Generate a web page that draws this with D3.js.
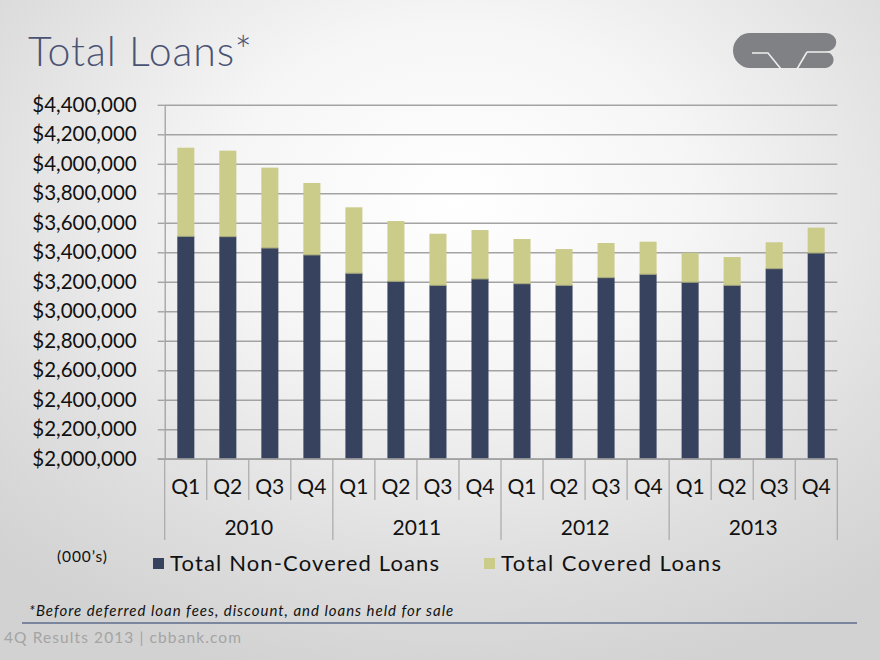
<!DOCTYPE html>
<html>
<head>
<meta charset="utf-8">
<script src="https://cdn.jsdelivr.net/npm/d3@7"></script>
<style>
  html, body { margin: 0; padding: 0; background: #fff; }
  svg { display: block; }
  text { font-family: Lato, "Open Sans", "DejaVu Sans", sans-serif; }
</style>
</head>
<body>
<svg id="chart" width="880" height="660"></svg>
<script>
// ---- data (values in $000s) ----
const years = ["2010", "2011", "2012", "2013"];
const quarters = ["Q1", "Q2", "Q3", "Q4"];
const nonCovered = [3508000, 3506000, 3429000, 3382000, 3258000, 3203000, 3176000, 3219000,
                    3187000, 3176000, 3228000, 3251000, 3197000, 3176000, 3289000, 3395000];
const covered    = [601000, 583000, 545000, 488000, 447000, 409000, 350000, 332000,
                    303000, 246000, 235000, 221000, 200000, 192000, 179000, 172000];
const yTicks = [2000000, 2200000, 2400000, 2600000, 2800000, 3000000, 3200000, 3400000,
                3600000, 3800000, 4000000, 4200000, 4400000];
const seriesNames = ["Total Non-Covered Loans", "Total Covered Loans"];
const colors = ["#37425f", "#cbcb8a"];

(function () {
const cats = [];
years.forEach(yv => quarters.forEach(q => cats.push({ id: yv + "-" + q, year: yv, q: q })));
const rows = cats.map((c, i) => ({ id: c.id, year: c.year, q: c.q, nonCovered: nonCovered[i], covered: covered[i] }));

const svg = d3.select("#chart");
const W = 880, H = 660;

function fitWidth(sel, w) {
  sel.each(function () {
    const cur = this.getComputedTextLength();
    if (cur > 0) {
      const n = this.textContent.length;
      const ls = (w - cur) / Math.max(1, n - 1);
      d3.select(this).attr("letter-spacing", ls.toFixed(2));
    }
  });
}

// ---- background ----
const defs = svg.append("defs");
const rg = defs.append("radialGradient").attr("id", "bg")
  .attr("cx", "52%").attr("cy", "30%").attr("r", "75%");
rg.append("stop").attr("offset", "0%").attr("stop-color", "#ffffff");
rg.append("stop").attr("offset", "35%").attr("stop-color", "#f6f6f6");
rg.append("stop").attr("offset", "75%").attr("stop-color", "#dedede");
rg.append("stop").attr("offset", "100%").attr("stop-color", "#d2d2d2");
svg.append("rect").attr("width", W).attr("height", H).attr("fill", "url(#bg)");

// ---- title ----
svg.append("text").attr("x", 28).attr("y", 66)
  .attr("font-size", 41).attr("fill", "#4b5374").attr("font-weight", 300)
  .text("Total Loans*").call(fitWidth, 224);

// ---- logo ----
svg.append("path").attr("fill", "#808184").attr("d",
  "M750,33 L826,33 A10,9 0 0 1 826,51.5 A10,8.5 0 0 1 826,68 L750,68 A17,17.5 0 0 1 750,33 Z");
const cut = svg.append("g").attr("stroke", "#f0f0f0").attr("stroke-width", 1.5).attr("fill", "none");
cut.append("path").attr("d", "M752,53 L768,53 L781,69");
cut.append("path").attr("d", "M807,52 L797,69");
cut.append("path").attr("d", "M807,52 L830,52");

// ---- scales ----
const pLeft = 164.7, pRight = 837.3, pTop = 104.8, pBottom = 458.8;
const x = d3.scaleBand().domain(rows.map(d => d.id)).range([pLeft, pRight])
  .paddingInner(0.595).paddingOuter(0.3);
const xCat = d3.scaleBand().domain(rows.map(d => d.id)).range([pLeft, pRight]).padding(0);
const y = d3.scaleLinear().domain([2000000, 4400000]).range([pBottom, pTop]);
const fmt = d3.format("$,.0f");

defs.append("clipPath").attr("id", "plotClip").append("rect")
  .attr("x", pLeft).attr("y", pTop - 20).attr("width", pRight - pLeft).attr("height", pBottom - pTop + 20);

// ---- gridlines + y axis ----
const yAxis = d3.axisLeft(y).tickValues(yTicks).tickFormat(fmt)
  .tickSize(-(pRight - pLeft)).tickSizeOuter(0).tickPadding(28);
const gy = svg.append("g").attr("transform", `translate(${pLeft},0)`).call(yAxis);
gy.select(".domain").attr("stroke", "#a0a0a0").attr("stroke-width", 1.3);
gy.selectAll(".tick line").attr("stroke", "#a3a3a3").attr("stroke-width", 1.4);
gy.selectAll(".tick").append("line").attr("x1", -7).attr("x2", 0)
  .attr("stroke", "#a3a3a3").attr("stroke-width", 1.4);
gy.selectAll(".tick text").attr("font-size", 20.5).attr("fill", "#111")
  .attr("font-family", "Lato, 'Open Sans', sans-serif");

// ---- bars ----
const stack = d3.stack().keys(["nonCovered", "covered"]);
const series = stack(rows);
const barsG = svg.append("g").attr("clip-path", "url(#plotClip)");
barsG.selectAll("g").data(series).join("g")
  .attr("fill", (d, i) => colors[i])
  .selectAll("rect").data(d => d).join("rect")
  .attr("x", d => x(d.data.id))
  .attr("width", x.bandwidth())
  .attr("y", d => y(d[1]))
  .attr("height", d => y(d[0]) - y(d[1]));
barsG.append("g").selectAll("line").data(rows).join("line")
  .attr("x1", d => x(d.id)).attr("x2", d => x(d.id) + x.bandwidth())
  .attr("y1", d => y(d.nonCovered)).attr("y2", d => y(d.nonCovered))
  .attr("stroke", "#9ea27a").attr("stroke-width", 1);

// ---- category axis ----
const gx = svg.append("g");
gx.append("line").attr("x1", pLeft - 7).attr("x2", pRight).attr("y1", pBottom).attr("y2", pBottom)
  .attr("stroke", "#a0a0a0").attr("stroke-width", 1.3);
const bounds = d3.range(0, rows.length + 1);
gx.selectAll("line.div").data(bounds).join("line").attr("class", "div")
  .attr("x1", i => i < rows.length ? xCat(rows[i].id) : pRight)
  .attr("x2", i => i < rows.length ? xCat(rows[i].id) : pRight)
  .attr("y1", pBottom)
  .attr("y2", i => i % 4 === 0 ? 540 : 500)
  .attr("stroke", "#a8a8a8").attr("stroke-width", 1.2);
gx.selectAll("text.q").data(rows).join("text").attr("class", "q")
  .attr("x", d => xCat(d.id) + xCat.bandwidth() / 2)
  .attr("y", 494).attr("text-anchor", "middle")
  .attr("font-size", 21).attr("fill", "#111").text(d => d.q);
gx.selectAll("text.yr").data(years).join("text").attr("class", "yr")
  .attr("x", yv => {
    const ids = rows.filter(r => r.year === yv).map(r => r.id);
    return (xCat(ids[0]) + xCat(ids[ids.length - 1]) + xCat.bandwidth()) / 2;
  })
  .attr("y", 535).attr("text-anchor", "middle")
  .attr("font-size", 21).attr("fill", "#111").text(d => d);

// ---- legend ----
svg.append("text").attr("x", 57).attr("y", 562).attr("font-size", 15.5).attr("fill", "#111")
  .text("(000\u2019s)").call(fitWidth, 50);
const legX = [153, 484];
const legW = [269, 220];
const lg = svg.append("g").selectAll("g").data(seriesNames).join("g")
  .attr("transform", (d, i) => `translate(${legX[i]},0)`);
lg.append("rect").attr("x", 0).attr("y", 558).attr("width", 11).attr("height", 11)
  .attr("fill", (d, i) => colors[i]);
lg.append("text").attr("x", 17).attr("y", 571).attr("font-size", 22).attr("fill", "#111")
  .text(d => d).each(function (d, i) { d3.select(this).call(fitWidth, legW[i]); });

// ---- footnote & footer ----
svg.append("text").attr("x", 29).attr("y", 616).attr("font-size", 15).attr("font-style", "italic")
  .attr("fill", "#111").text("*Before deferred loan fees, discount, and loans held for sale")
  .call(fitWidth, 424);
svg.append("line").attr("x1", 22).attr("x2", 857).attr("y1", 623).attr("y2", 623)
  .attr("stroke", "#5e6b8c").attr("stroke-width", 1.3);
svg.append("text").attr("x", 4).attr("y", 643).attr("font-size", 15.5).attr("fill", "#a4a4a4")
  .text("4Q Results 2013 | cbbank.com").call(fitWidth, 237);
})();
</script>
</body>
</html>
